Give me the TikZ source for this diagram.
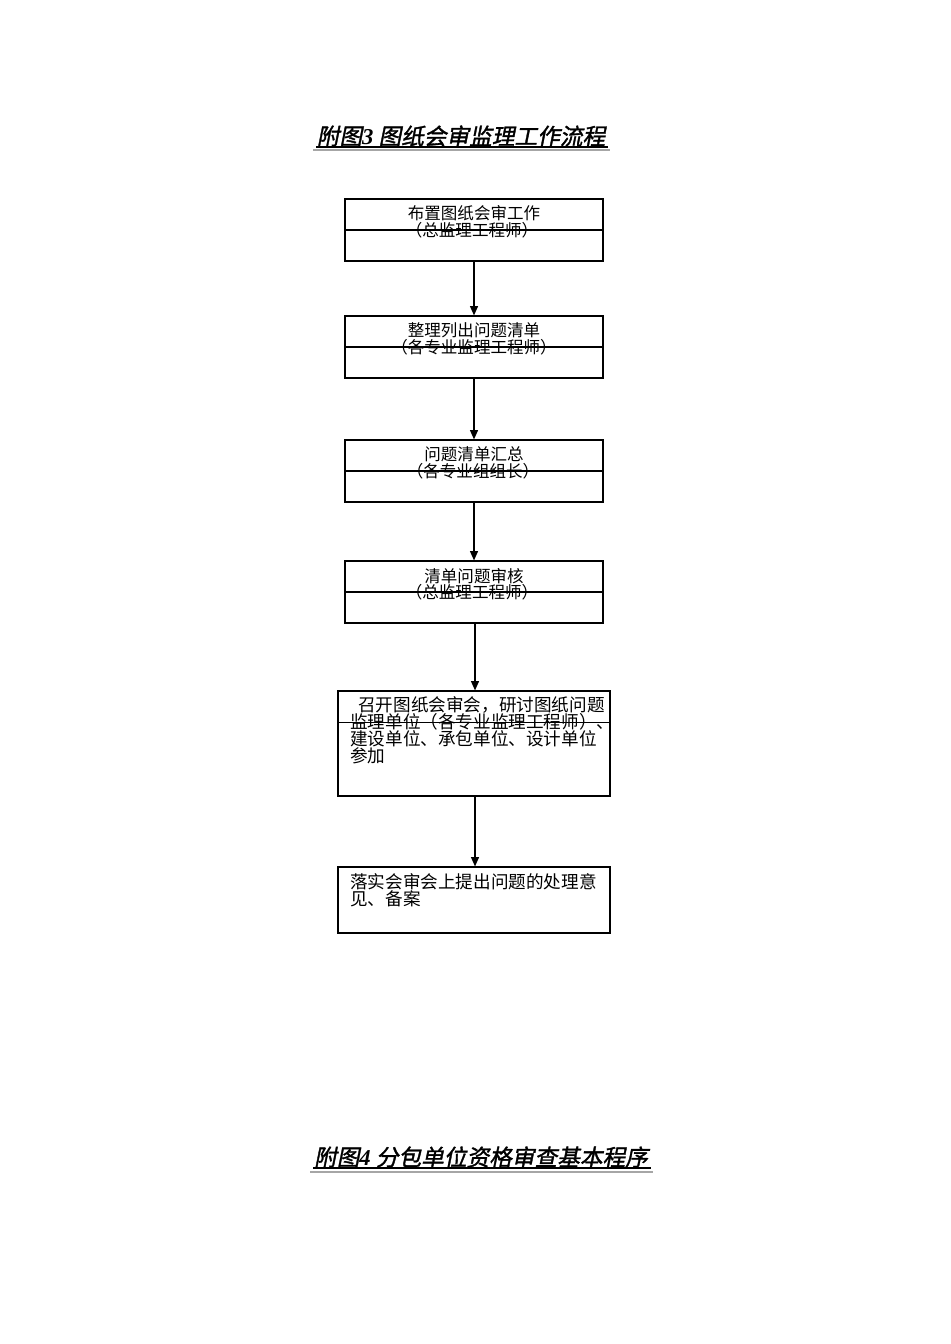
\documentclass[tikz,border=0pt]{standalone}
\usepackage{fontspec}
\newfontfamily\cjk{Noto Sans CJK SC}
\newfontfamily\cjktitle{Noto Sans CJK SC}[FakeSlant=0.2,FakeBold=1.5]
\newfontfamily\digitbi{Liberation Serif}[UprightFont=* Bold Italic]
\usetikzlibrary{arrows.meta}
\begin{document}
\begin{tikzpicture}[x=0.75pt,y=-0.75pt,
  box/.style={draw, line width=0.9pt, inner sep=0pt, minimum width=193.5pt, minimum height=46.5pt},
  txt/.style={font=\cjk\fontsize{12.4pt}{14pt}\selectfont, inner sep=0pt, anchor=center},
  ltxt/.style={font=\cjk\fontsize{13.2pt}{15pt}\selectfont, inner sep=0pt, anchor=west},
  flow/.style={line width=0.9pt, -{Triangle[length=7pt,width=6pt]}},
  ttl/.style={font=\cjktitle\fontsize{17pt}{20pt}\selectfont, inner sep=0pt},
  divider/.style={line width=0.9pt}]
\useasboundingbox (0,0) rectangle (950,1344);
\fill[white] (0,0) rectangle (950,1344);

% Title 1
\node[ttl] (t1) at (461,136) {附图{\digitbi 3} 图纸会审监理工作流程};
\draw[gray!70, line width=1.5pt] (313,150) -- (610,150);
\draw[black, line width=1.1pt] (316,147) -- (608,147);

% Boxes
\node[box] (b1) at (474,230) {};
\node[box] (b2) at (474,347) {};
\node[box] (b3) at (474,471) {};
\node[box] (b4) at (474,592) {};
\node[box, minimum width=204pt, minimum height=78.75pt] (b5) at (474,743.5) {};
\node[box, minimum width=204pt, minimum height=49.5pt] (b6) at (474,900) {};

% Dividers
\draw[divider] (b1.west) -- (b1.east);
\draw[divider] (b2.west) -- (b2.east);
\draw[divider] (b3.west) -- (b3.east);
\draw[divider] (b4.west) -- (b4.east);
\draw[divider] (b5.north west) ++(0,32) -- ++(272,0);

% Texts
\node[txt] (b1a) at (474,213) {布置图纸会审工作};
\node[txt] (b1b) at (472,230) {（总监理工程师）};
\node[txt] (b2a) at (474,330) {整理列出问题清单};
\node[txt] (b2b) at (474,347) {（各专业监理工程师）};
\node[txt] (b3a) at (474,454) {问题清单汇总};
\node[txt] (b3b) at (473,471) {（各专业组组长）};
\node[txt] (b4a) at (474,576) {清单问题审核};
\node[txt] (b4b) at (472,592) {（总监理工程师）};
\node[ltxt] (b5a) at (358,705) {召开图纸会审会，研讨图纸问题};
\node[ltxt] (b5b) at (350,722) {监理单位（各专业监理工程师）、};
\node[ltxt] (b5c) at (350,739) {建设单位、承包单位、设计单位};
\node[ltxt] (b5d) at (350,756) {参加};
\node[ltxt] (b6a) at (350,882) {落实会审会上提出问题的处理意};
\node[ltxt] (b6b) at (350,899) {见、备案};

% Connectors
\draw[flow] (b1) -- (b2);
\draw[flow] (b2) -- (b3);
\draw[flow] (b3) -- (b4);
\draw[flow] (b4.south) ++(1,0) coordinate (c4) -- (c4 |- b5.north);
\draw[flow] (b5.south) ++(1,0) coordinate (c5) -- (c5 |- b6.north);

% Title 2
\node[ttl] (t2) at (481,1157) {附图{\digitbi 4} 分包单位资格审查基本程序};
\draw[gray!70, line width=1.5pt] (310,1172) -- (653,1172);
\draw[black, line width=1.1pt] (313,1168) -- (651,1168);
\end{tikzpicture}
\end{document}
